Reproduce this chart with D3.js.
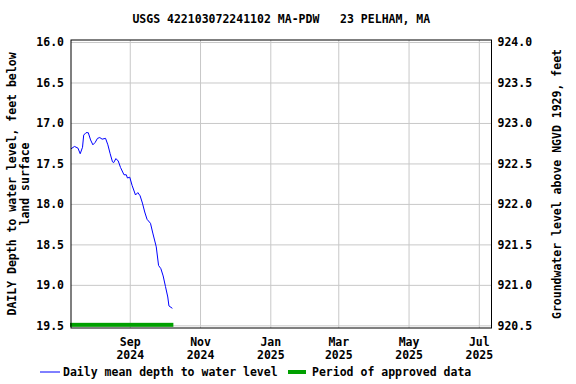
<!DOCTYPE html>
<html>
<head>
<meta charset="utf-8">
<script src="https://cdn.jsdelivr.net/npm/d3@7"></script>
<style>
  body { margin: 0; background: #fff; }
  text { font-family: "DejaVu Sans Mono", monospace; font-weight: bold; font-size: 11.5px; fill: #000; }
</style>
</head>
<body>
<div id="chart-area"></div>
<script>
// Data
const dates = ['2024-07-12', '2024-07-15', '2024-07-18', '2024-07-20', '2024-07-22', '2024-07-23',
    '2024-07-25', '2024-07-27', '2024-07-29', '2024-07-31', '2024-08-02', '2024-08-04',
    '2024-08-06', '2024-08-08', '2024-08-11', '2024-08-13', '2024-08-15', '2024-08-17',
    '2024-08-18', '2024-08-20', '2024-08-22', '2024-08-24', '2024-08-27', '2024-08-29',
    '2024-08-30', '2024-09-01', '2024-09-03', '2024-09-06', '2024-09-08', '2024-09-10',
    '2024-09-12', '2024-09-14', '2024-09-16', '2024-09-19', '2024-09-21', '2024-09-24',
    '2024-09-26', '2024-09-28', '2024-09-30', '2024-10-02', '2024-10-04', '2024-10-05',
    '2024-10-08'];
const depths = [17.32, 17.29, 17.31, 17.38, 17.30, 17.15,
    17.12, 17.12, 17.21, 17.27, 17.24, 17.19,
    17.18, 17.20, 17.19, 17.27, 17.38, 17.48,
    17.49, 17.44, 17.47, 17.55, 17.64, 17.64,
    17.68, 17.67, 17.77, 17.89, 17.86, 17.90,
    17.99, 18.10, 18.19, 18.24, 18.36, 18.53,
    18.76, 18.80, 18.89, 19.02, 19.15, 19.26,
    19.29];
const approvedPeriod = ['2024-07-12', '2024-10-08'];
const depthTicks = [16.0, 16.5, 17.0, 17.5, 18.0, 18.5, 19.0, 19.5];
const elevTicks = [924.0, 923.5, 923.0, 922.5, 922.0, 921.5, 921.0, 920.5];
const monthTicks = ['2024-09-01', '2024-11-01', '2025-01-01', '2025-03-01', '2025-05-01', '2025-07-01'];
const landSurface = 940.0;

const parseDate = d3.timeParse('%Y-%m-%d');

// Margins
const margin = { left: 71, right: 84.5, top: 40, bottom: 56 };
const width = 576 - margin.left - margin.right;
const height = 384 - margin.top - margin.bottom;

const svg = d3.select('#chart-area')
    .append('svg')
    .attr('width', 576)
    .attr('height', 384);

const g = svg.append('g')
    .attr('transform', 'translate(' + margin.left + ', ' + margin.top + ')');

// Scales
const x = d3.scaleTime()
    .domain([parseDate('2024-07-12'), parseDate('2025-07-12')])
    .range([0, width]);

const y = d3.scaleLinear()
    .domain([15.975, 19.533])
    .range([0, height]);

const y2 = d3.scaleLinear()
    .domain([landSurface - 15.975, landSurface - 19.533])
    .range([0, height]);

// Grid
g.append('g')
    .attr('class', 'grid')
    .call(d3.axisLeft(y).tickValues(depthTicks).tickSize(-width).tickFormat(''))
    .call((s) => s.select('.domain').remove())
    .selectAll('line')
    .attr('stroke', '#c8c8c8');

g.append('g')
    .attr('class', 'grid')
    .attr('transform', 'translate(0, ' + height + ')')
    .call(d3.axisBottom(x).tickValues(monthTicks.map(parseDate)).tickSize(-height).tickFormat(''))
    .call((s) => s.select('.domain').remove())
    .selectAll('line')
    .attr('stroke', '#c8c8c8');

// Approved period bar
g.append('rect')
    .attr('x', x(parseDate(approvedPeriod[0])) - 1)
    .attr('y', y(19.5) - 2.5)
    .attr('width', x(parseDate(approvedPeriod[1])) - x(parseDate(approvedPeriod[0])) + 2)
    .attr('height', 4)
    .attr('fill', '#00a000');

// Line
const line = d3.line()
    .x((d, i) => x(parseDate(dates[i])))
    .y((d) => y(d));

g.append('path')
    .datum(depths)
    .attr('fill', 'none')
    .attr('stroke', '#0000ff')
    .attr('stroke-width', 1)
    .attr('d', line);

// Frame
g.append('rect')
    .attr('width', width)
    .attr('height', height)
    .attr('fill', 'none')
    .attr('stroke', '#000')
    .attr('stroke-width', 1);

// Left axis
g.append('g')
    .call(d3.axisLeft(y).tickValues(depthTicks).tickSize(0).tickPadding(7).tickFormat(d3.format('.1f')))
    .call((s) => s.select('.domain').remove())
    .selectAll('text')
    .attr('font-family', null)
    .attr('font-size', null);

// Right axis
g.append('g')
    .attr('transform', 'translate(' + width + ', 0)')
    .call(d3.axisRight(y2).tickValues(elevTicks).tickSize(0).tickPadding(6).tickFormat(d3.format('.1f')))
    .call((s) => s.select('.domain').remove())
    .selectAll('text')
    .attr('font-family', null)
    .attr('font-size', null);

// Bottom axis, two-line labels
const xAxis = g.append('g')
    .attr('transform', 'translate(0, ' + height + ')')
    .call(d3.axisBottom(x).tickValues(monthTicks.map(parseDate)).tickSize(0).tickFormat(''))
    .call((s) => s.select('.domain').remove());

xAxis.selectAll('.tick').each(function (d) {
    const t = d3.select(this).select('text')
        .attr('font-family', null)
        .attr('font-size', null)
        .attr('y', 18)
        .attr('dy', 0);
    t.append('tspan').attr('x', 0).text(d3.timeFormat('%b')(d));
    t.append('tspan').attr('x', 0).attr('dy', 13).text(d3.timeFormat('%Y')(d));
});

// Title
svg.append('text')
    .attr('x', margin.left + width / 2)
    .attr('y', 23)
    .attr('text-anchor', 'middle')
    .attr('xml:space', 'preserve')
    .style('white-space', 'pre')
    .text('USGS 422103072241102 MA-PDW   23 PELHAM, MA');

// Y labels
const yLabel = svg.append('text')
    .attr('transform', 'translate(16, ' + (margin.top + height / 2) + ') rotate(-90)')
    .attr('text-anchor', 'middle');
yLabel.append('tspan').attr('x', 0).text('DAILY Depth to water level, feet below');
yLabel.append('tspan').attr('x', 0).attr('dy', 13).text('land surface');

svg.append('text')
    .attr('transform', 'translate(561, ' + (margin.top + height / 2) + ') rotate(-90)')
    .attr('text-anchor', 'middle')
    .text('Groundwater level above NGVD 1929, feet');

// Legend
svg.append('line')
    .attr('x1', 40).attr('x2', 60)
    .attr('y1', 372).attr('y2', 372)
    .attr('stroke', '#0000ff')
    .attr('stroke-width', 1);
svg.append('text')
    .attr('x', 63)
    .attr('y', 376)
    .text('Daily mean depth to water level');
svg.append('rect')
    .attr('x', 288).attr('y', 370)
    .attr('width', 18).attr('height', 4)
    .attr('fill', '#00a000');
svg.append('text')
    .attr('x', 312)
    .attr('y', 376)
    .text('Period of approved data');
</script>
</body>
</html>
